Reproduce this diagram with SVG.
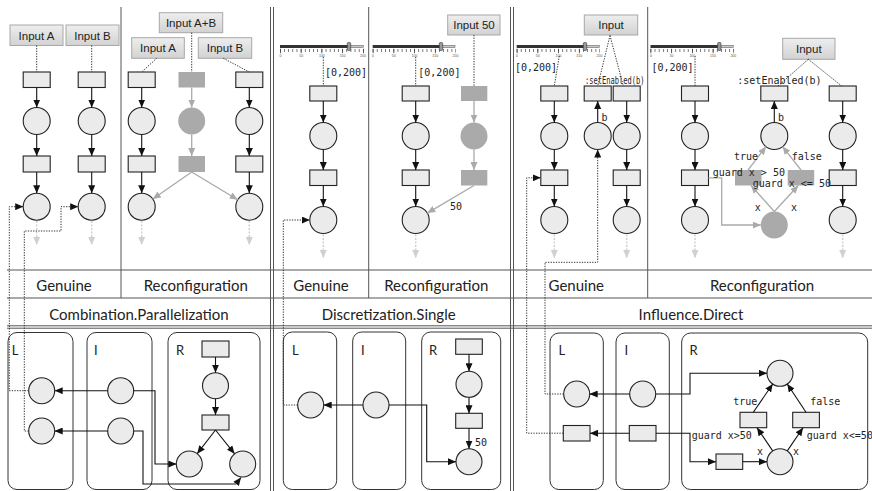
<svg xmlns="http://www.w3.org/2000/svg" width="872" height="491" viewBox="0 0 872 491">
<defs>
<linearGradient id="btng" x1="0" y1="0" x2="0" y2="1"><stop offset="0" stop-color="#eeeeee"/><stop offset="1" stop-color="#d2d2d2"/></linearGradient>
<marker id="ah" viewBox="0 0 8 7" refX="8" refY="3.5" markerWidth="8" markerHeight="7" markerUnits="userSpaceOnUse" orient="auto"><path d="M0,0L8,3.5L0,7z" fill="#111"/></marker>
<marker id="ahg" viewBox="0 0 8 7" refX="8" refY="3.5" markerWidth="8" markerHeight="7" markerUnits="userSpaceOnUse" orient="auto"><path d="M0,0L8,3.5L0,7z" fill="#aaa"/></marker>
<marker id="ahl" viewBox="0 0 8 7" refX="8" refY="3.5" markerWidth="8" markerHeight="7" markerUnits="userSpaceOnUse" orient="auto"><path d="M0,0L8,3.5L0,7z" fill="#d0d0d0"/></marker>
</defs>
<style>
.fr{stroke:#555;stroke-width:1;fill:none}
.hd{font-family:Lato,"Open Sans",sans-serif;font-size:15px;text-anchor:middle;fill:#222}
.lab{font-family:Lato,"Open Sans",sans-serif;font-size:13px;fill:#222}
.btn{fill:url(#btng);stroke:#a8a8a8;stroke-width:1}
.bt{font-family:"Liberation Sans",Arial,sans-serif;font-size:11.5px;text-anchor:middle;fill:#222}
.mono{font-family:"DejaVu Sans Mono","Liberation Mono",monospace;font-size:10px;fill:#222}
.mid{text-anchor:middle}
.tr{fill:#ebebeb;stroke:#222;stroke-width:1.1}
.pl{fill:#ebebeb;stroke:#222;stroke-width:1.1}
.gr{fill:#aaa;stroke:none}
.box{fill:none;stroke:#333;stroke-width:1}
.a{stroke:#111;stroke-width:1.1;fill:none;marker-end:url(#ah)}
.ag{stroke:#aaa;stroke-width:1.3;fill:none;marker-end:url(#ahg)}
.al{stroke:#d0d0d0;stroke-width:1.5;fill:none;stroke-dasharray:2 1.5;marker-end:url(#ahl)}
.dt{stroke:#333;stroke-width:1;fill:none;stroke-dasharray:1.3 1.3}
.dta{stroke:#333;stroke-width:1;fill:none;stroke-dasharray:1.3 1.3;marker-end:url(#ah)}
.tk{font-family:"Liberation Sans",Arial,sans-serif;font-size:3.5px;fill:#555;text-anchor:middle}
.tick{stroke:#444;stroke-width:3;stroke-dasharray:0.7 3.45}
.mtick{stroke:#444;stroke-width:4.5;stroke-dasharray:0.8 19.95}
</style>
<rect width="872" height="491" fill="#ffffff"/>

<g id="frame">
<path class="fr" d="M7,270H872M7,298H872M7,325.8H872M7,328.2H872"/>
<path class="fr" d="M121,7V298M368.7,7V298M647.7,7V298"/>
<path class="fr" d="M270.5,7V491M273.5,7V491M510.5,7V491M513.5,7V491"/>
</g>

<g id="headers">
<text class="hd" x="64" y="290.5">Genuine</text>
<text class="hd" x="195.8" y="290.5">Reconfiguration</text>
<text class="hd" x="321" y="290.5">Genuine</text>
<text class="hd" x="436.3" y="290.5">Reconfiguration</text>
<text class="hd" x="576.3" y="290.5">Genuine</text>
<text class="hd" x="762" y="290.5">Reconfiguration</text>
<text class="hd" x="139" y="319.5">Combination.Parallelization</text>
<text class="hd" x="388.7" y="319.5">Discretization.Single</text>
<text class="hd" x="691" y="319.5">Influence.Direct</text>
</g>

<!-- Section 1 Genuine -->
<g id="s1g-inputA"><rect class="btn" x="10" y="25" width="53" height="20.5"/><text class="bt" x="36.5" y="39.5">Input A</text></g>
<g id="s1g-inputB"><rect class="btn" x="66" y="25" width="53" height="20.5"/><text class="bt" x="92.5" y="39.5">Input B</text></g>
<g id="s1g-tA1"><rect class="tr" x="23.2" y="72" width="27" height="15.5"/></g>
<g id="s1g-pA1"><circle class="pl" cx="36.7" cy="121" r="13.5"/></g>
<g id="s1g-tA2"><rect class="tr" x="23.2" y="156" width="27" height="16"/></g>
<g id="s1g-pA2"><circle class="pl" cx="36.7" cy="206.7" r="13.5"/></g>
<g id="s1g-tB1"><rect class="tr" x="78.2" y="72" width="27" height="15.5"/></g>
<g id="s1g-pB1"><circle class="pl" cx="91.7" cy="121" r="13.5"/></g>
<g id="s1g-tB2"><rect class="tr" x="78.2" y="156" width="27" height="16"/></g>
<g id="s1g-pB2"><circle class="pl" cx="91.7" cy="206.7" r="13.5"/></g>

<!-- Section 1 Reconfiguration -->
<g id="s1r-inputAB"><rect class="btn" x="159.3" y="12.7" width="63.4" height="20"/><text class="bt" x="191" y="27">Input A+B</text></g>
<g id="s1r-inputA"><rect class="btn" x="131.7" y="37.7" width="52.6" height="20.6"/><text class="bt" x="158" y="52.2">Input A</text></g>
<g id="s1r-inputB"><rect class="btn" x="198.3" y="37.7" width="53.4" height="20.6"/><text class="bt" x="225" y="52.2">Input B</text></g>
<g id="s1r-tA1"><rect class="tr" x="128.2" y="72" width="27" height="15.5"/></g>
<g id="s1r-pA1"><circle class="pl" cx="141.7" cy="121" r="13.5"/></g>
<g id="s1r-tA2"><rect class="tr" x="128.2" y="156" width="27" height="16"/></g>
<g id="s1r-pA2"><circle class="pl" cx="141.7" cy="206.7" r="13.5"/></g>
<g id="s1r-tM1"><rect class="gr" x="178.5" y="72" width="26.5" height="15.5"/></g>
<g id="s1r-pM1"><circle class="gr" cx="191.7" cy="121" r="13.5"/></g>
<g id="s1r-tM2"><rect class="gr" x="178.5" y="156" width="26.5" height="16"/></g>
<g id="s1r-tB1"><rect class="tr" x="235.8" y="72" width="27" height="15.5"/></g>
<g id="s1r-pB1"><circle class="pl" cx="249.3" cy="121" r="13.5"/></g>
<g id="s1r-tB2"><rect class="tr" x="235.8" y="156" width="27" height="16"/></g>
<g id="s1r-pB2"><circle class="pl" cx="249.3" cy="206.7" r="13.5"/></g>

<!-- Section 1 rule -->
<g id="s1-L"><rect class="box" x="8" y="332.5" width="65" height="157" rx="9"/><text class="lab" x="11.7" y="354.5">L</text></g>
<g id="s1-I"><rect class="box" x="87" y="332.5" width="65" height="157" rx="9"/><text class="lab" x="94" y="354.5">I</text></g>
<g id="s1-R"><rect class="box" x="168" y="332.5" width="92" height="157" rx="9"/><text class="lab" x="176" y="354.5">R</text></g>
<g id="s1-L-p1"><circle class="pl" cx="41.7" cy="390.7" r="13"/></g>
<g id="s1-L-p2"><circle class="pl" cx="41.7" cy="431" r="13"/></g>
<g id="s1-I-p1"><circle class="pl" cx="120.7" cy="390.7" r="13"/></g>
<g id="s1-I-p2"><circle class="pl" cx="120.7" cy="431" r="13"/></g>
<g id="s1-R-t1"><rect class="tr" x="202" y="341" width="27" height="16"/></g>
<g id="s1-R-p1"><circle class="pl" cx="215.5" cy="385.7" r="13"/></g>
<g id="s1-R-t2"><rect class="tr" x="202" y="415" width="27" height="15"/></g>
<g id="s1-R-p2"><circle class="pl" cx="189.3" cy="464" r="13"/></g>
<g id="s1-R-p3"><circle class="pl" cx="242.7" cy="464" r="13"/></g>

<!-- Section 2 Genuine -->
<g id="s2g-slider">
<rect x="280" y="45" width="69" height="3" fill="#333"/>
<rect x="349" y="45.3" width="14.3" height="2.4" fill="#c8c8c8" stroke="#555" stroke-width="0.5"/>
<line class="tick" x1="280" y1="50.5" x2="364" y2="50.5"/>
<line class="mtick" x1="280" y1="51" x2="364" y2="51"/>
<rect x="347.3" y="42.5" width="3.4" height="8" rx="1" fill="#999" stroke="#333" stroke-width="0.6"/>
<text class="tk" x="280.4" y="57">0</text><text class="tk" x="301.2" y="57">50</text><text class="tk" x="321.9" y="57">100</text><text class="tk" x="342.6" y="57">150</text><text class="tk" x="363" y="57">200</text>
</g>
<g id="s2g-range"><text class="mono" x="325" y="76">[0,200]</text></g>
<g id="s2g-t1"><rect class="tr" x="309.8" y="86" width="27" height="15"/></g>
<g id="s2g-p1"><circle class="pl" cx="323.3" cy="136" r="13.5"/></g>
<g id="s2g-t2"><rect class="tr" x="309.8" y="170" width="27" height="15.5"/></g>
<g id="s2g-p2"><circle class="pl" cx="323.3" cy="220" r="13.5"/></g>

<!-- Section 2 Reconfiguration -->
<g id="s2r-slider">
<rect x="372.7" y="45" width="68.3" height="3" fill="#333"/>
<rect x="441" y="45.3" width="14" height="2.4" fill="#c8c8c8" stroke="#555" stroke-width="0.5"/>
<line class="tick" x1="372.7" y1="50.5" x2="456" y2="50.5"/>
<line class="mtick" x1="372.7" y1="51" x2="456" y2="51"/>
<rect x="439.3" y="42.5" width="3.4" height="8" rx="1" fill="#999" stroke="#333" stroke-width="0.6"/>
<text class="tk" x="373.1" y="57">0</text><text class="tk" x="393.8" y="57">50</text><text class="tk" x="414.5" y="57">100</text><text class="tk" x="435.2" y="57">150</text><text class="tk" x="455.5" y="57">200</text>
</g>
<g id="s2r-range"><text class="mono" x="418.3" y="76">[0,200]</text></g>
<g id="s2r-input50"><rect class="btn" x="447.7" y="15" width="52.3" height="20"/><text class="bt" x="474" y="29.3">Input 50</text></g>
<g id="s2r-t1"><rect class="tr" x="402.2" y="86" width="27" height="15"/></g>
<g id="s2r-p1"><circle class="pl" cx="415.7" cy="136" r="13.5"/></g>
<g id="s2r-t2"><rect class="tr" x="402.2" y="170" width="27" height="15.5"/></g>
<g id="s2r-p2"><circle class="pl" cx="415.7" cy="220" r="13.5"/></g>
<g id="s2r-gt1"><rect class="gr" x="461" y="86" width="26.3" height="15"/></g>
<g id="s2r-gp1"><circle class="gr" cx="474" cy="136" r="13.5"/></g>
<g id="s2r-gt2"><rect class="gr" x="461" y="170" width="26.3" height="15.5"/></g>

<!-- Section 2 rule -->
<g id="s2-L"><rect class="box" x="283.3" y="332" width="53.4" height="157.5" rx="9"/><text class="lab" x="292" y="354.5">L</text></g>
<g id="s2-I"><rect class="box" x="352.7" y="332" width="53" height="157.5" rx="9"/><text class="lab" x="361" y="354.5">I</text></g>
<g id="s2-R"><rect class="box" x="421.7" y="332" width="79" height="157.5" rx="9"/><text class="lab" x="429" y="354.5">R</text></g>
<g id="s2-L-p1"><circle class="pl" cx="310.7" cy="405" r="13"/></g>
<g id="s2-I-p1"><circle class="pl" cx="376" cy="405" r="13"/></g>
<g id="s2-R-t1"><rect class="tr" x="455.7" y="339" width="26.6" height="15.3"/></g>
<g id="s2-R-p1"><circle class="pl" cx="469" cy="384.3" r="13"/></g>
<g id="s2-R-t2"><rect class="tr" x="455.7" y="413.3" width="26.6" height="15"/></g>
<g id="s2-R-p2"><circle class="pl" cx="469" cy="461.7" r="13"/></g>

<!-- Section 3 Genuine -->
<g id="s3g-slider">
<rect x="516.7" y="45" width="68.3" height="3" fill="#333"/>
<rect x="585" y="45.3" width="14.3" height="2.4" fill="#c8c8c8" stroke="#555" stroke-width="0.5"/>
<line class="tick" x1="516.7" y1="50.5" x2="600" y2="50.5"/>
<line class="mtick" x1="516.7" y1="51" x2="600" y2="51"/>
<rect x="583.3" y="42.5" width="3.4" height="8" rx="1" fill="#999" stroke="#333" stroke-width="0.6"/>
<text class="tk" x="517.1" y="57">0</text><text class="tk" x="537.8" y="57">50</text><text class="tk" x="558.5" y="57">100</text><text class="tk" x="579.2" y="57">150</text><text class="tk" x="599.5" y="57">200</text>
</g>
<g id="s3g-range"><text class="mono" x="515" y="71">[0,200]</text></g>
<g id="s3g-input"><rect class="btn" x="584.3" y="15" width="53.4" height="20"/><text class="bt" x="611" y="29.3">Input</text></g>
<g id="s3g-set"><text class="mono" x="585" y="84" textLength="59.5" lengthAdjust="spacingAndGlyphs">:setEnabled(b)</text></g>
<g id="s3g-t1"><rect class="tr" x="540.8" y="86" width="27" height="15"/></g>
<g id="s3g-p1"><circle class="pl" cx="554.3" cy="136" r="13.5"/></g>
<g id="s3g-t2"><rect class="tr" x="540.8" y="170" width="27" height="15.5"/></g>
<g id="s3g-p2"><circle class="pl" cx="554.3" cy="220" r="13.5"/></g>
<g id="s3g-tb"><rect class="tr" x="584.2" y="86" width="27" height="15"/></g>
<g id="s3g-pb"><circle class="pl" cx="597.7" cy="136" r="13.5"/></g>
<g id="s3g-tc1"><rect class="tr" x="613.2" y="86" width="27" height="15"/></g>
<g id="s3g-pc1"><circle class="pl" cx="626.7" cy="136" r="13.5"/></g>
<g id="s3g-tc2"><rect class="tr" x="613.2" y="170" width="27" height="15.5"/></g>
<g id="s3g-pc2"><circle class="pl" cx="626.7" cy="220" r="13.5"/></g>

<!-- Section 3 Reconfiguration -->
<g id="s3r-slider">
<rect x="650.5" y="45" width="68.8" height="3" fill="#333"/>
<rect x="719.3" y="45.3" width="14" height="2.4" fill="#c8c8c8" stroke="#555" stroke-width="0.5"/>
<line class="tick" x1="650.5" y1="50.5" x2="734" y2="50.5"/>
<line class="mtick" x1="650.5" y1="51" x2="734" y2="51"/>
<rect x="717.6" y="42.5" width="3.4" height="8" rx="1" fill="#999" stroke="#333" stroke-width="0.6"/>
<text class="tk" x="650.9" y="57">0</text><text class="tk" x="671.6" y="57">50</text><text class="tk" x="692.3" y="57">100</text><text class="tk" x="713" y="57">150</text><text class="tk" x="733.3" y="57">200</text>
</g>
<g id="s3r-range"><text class="mono" x="651.5" y="71">[0,200]</text></g>
<g id="s3r-input"><rect class="btn" x="782.7" y="38.3" width="52.3" height="21"/><text class="bt" x="808.8" y="52.8">Input</text></g>
<g id="s3r-set"><text class="mono" x="737.3" y="84">:setEnabled(b)</text></g>
<g id="s3r-t1"><rect class="tr" x="681.5" y="86" width="27" height="15"/></g>
<g id="s3r-p1"><circle class="pl" cx="695" cy="136" r="13.5"/></g>
<g id="s3r-t2"><rect class="tr" x="681.5" y="170" width="27" height="15.5"/></g>
<g id="s3r-p2"><circle class="pl" cx="695" cy="220" r="13.5"/></g>
<g id="s3r-tb"><rect class="tr" x="760.8" y="86" width="27" height="15"/></g>
<g id="s3r-pb"><circle class="pl" cx="774.3" cy="136" r="13.5"/></g>
<g id="s3r-tc1"><rect class="tr" x="829.2" y="86" width="27" height="15"/></g>
<g id="s3r-pc1"><circle class="pl" cx="842.7" cy="136" r="13.5"/></g>
<g id="s3r-tc2"><rect class="tr" x="829.2" y="170" width="27" height="15.5"/></g>
<g id="s3r-pc2"><circle class="pl" cx="842.7" cy="220" r="13.5"/></g>
<g id="s3r-gtl"><rect class="gr" x="735" y="170" width="26.5" height="15.5"/></g>
<g id="s3r-gtr"><rect class="gr" x="787.7" y="170" width="26.5" height="15.5"/></g>
<g id="s3r-gp"><circle class="gr" cx="774.3" cy="225" r="13.5"/></g>

<!-- Section 3 rule -->
<g id="s3-L"><rect class="box" x="550" y="333" width="53.3" height="156.5" rx="9"/><text class="lab" x="558.5" y="354.5">L</text></g>
<g id="s3-I"><rect class="box" x="616" y="333" width="53.3" height="156.5" rx="9"/><text class="lab" x="624.5" y="354.5">I</text></g>
<g id="s3-R"><rect class="box" x="681.7" y="333" width="186" height="156.5" rx="9"/><text class="lab" x="689.5" y="354.5">R</text></g>
<g id="s3-L-p1"><circle class="pl" cx="576.7" cy="394" r="13"/></g>
<g id="s3-L-t1"><rect class="tr" x="563.3" y="425.5" width="26.7" height="15.5"/></g>
<g id="s3-I-p1"><circle class="pl" cx="642.7" cy="394" r="13"/></g>
<g id="s3-I-t1"><rect class="tr" x="629.3" y="425.5" width="26.7" height="15.5"/></g>
<g id="s3-R-ptop"><circle class="pl" cx="780" cy="373.3" r="13"/></g>
<g id="s3-R-tl"><rect class="tr" x="740" y="412.3" width="26.7" height="15.4"/></g>
<g id="s3-R-tr"><rect class="tr" x="792.7" y="412.3" width="26.7" height="15.4"/></g>
<g id="s3-R-pbot"><circle class="pl" cx="780" cy="461.7" r="13"/></g>
<g id="s3-R-tin"><rect class="tr" x="716" y="454" width="26.7" height="15.4"/></g>

<g id="connectors">
<!-- section 1 genuine -->
<path class="dt" d="M36.7,45.5V72M91.7,45.5V72"/>
<path class="a" d="M36.7,87.5V107.5"/><path class="a" d="M36.7,134.5V156"/><path class="a" d="M36.7,172V193.2"/>
<path class="a" d="M91.7,87.5V107.5"/><path class="a" d="M91.7,134.5V156"/><path class="a" d="M91.7,172V193.2"/>
<path class="al" d="M36.7,221V245"/><path class="al" d="M91.7,221V245"/>
<!-- section 1 reconfiguration -->
<path class="dt" d="M156.7,58.3L141.7,72M191.7,32.7V72M223.3,58.3L249.3,72"/>
<path class="a" d="M141.7,87.5V107.5"/><path class="a" d="M141.7,134.5V156"/><path class="a" d="M141.7,172V193.2"/>
<path class="a" d="M249.3,87.5V107.5"/><path class="a" d="M249.3,134.5V156"/><path class="a" d="M249.3,172V193.2"/>
<path class="ag" d="M191.7,87.5V107.5"/><path class="ag" d="M191.7,134.5V156"/>
<path class="ag" d="M191.7,172L152.8,199"/><path class="ag" d="M191.7,172L237.7,199.7"/>
<path class="al" d="M141.7,221V245"/><path class="al" d="M249.3,221V245"/>
<!-- section 1 rule -->
<path class="a" d="M107.7,390.7H54.7"/><path class="a" d="M107.7,431H54.7"/>
<path class="a" d="M133.7,390.7H155V464H176.3"/>
<path class="a" d="M133.7,431H143V484H236L241,477.5"/>
<path class="a" d="M215.5,357V372.7"/><path class="a" d="M215.5,398.7V415"/>
<path class="a" d="M215.5,430L197.2,453.7"/><path class="a" d="M215.5,430L234.6,453.8"/>
<!-- section 1 traces -->
<path class="dta" d="M28.7,390.7H9.3V206.7H23.2"/>
<path class="dta" d="M28.7,431H24.3V231H61V206.7H78.2"/>

<!-- section 2 genuine -->
<path class="dt" d="M323.3,57V86"/>
<path class="a" d="M323.3,101V122.5"/><path class="a" d="M323.3,149.5V170"/><path class="a" d="M323.3,185.5V206.5"/>
<path class="al" d="M323.3,234.5V258"/>
<!-- section 2 reconfiguration -->
<path class="dt" d="M415.7,57V86M474,35V86"/>
<path class="a" d="M415.7,101V122.5"/><path class="a" d="M415.7,149.5V170"/><path class="a" d="M415.7,185.5V206.5"/>
<path class="al" d="M415.7,234.5V258"/>
<path class="ag" d="M474,101V122.5"/><path class="ag" d="M474,149.5V170"/>
<path class="ag" d="M474,185.5L427.3,213.1"/>
<text class="mono" x="450" y="210">50</text>
<!-- section 2 rule -->
<path class="a" d="M363,405H323.7"/>
<path class="a" d="M389,405H426.7V461.7H456"/>
<path class="a" d="M469,354.3V371.3"/><path class="a" d="M469,397.3V413.3"/><path class="a" d="M469,428.3V448.7"/>
<text class="mono" x="475" y="445.5">50</text>
<path class="dta" d="M297.7,405H283.3V220H309.8"/>

<!-- section 3 genuine -->
<path class="dt" d="M559.3,56L554.3,86M610,35.5L597.7,86M610,35.5L623.3,86"/>
<path class="a" d="M554.3,101V122.5"/><path class="a" d="M554.3,149.5V170"/><path class="a" d="M554.3,185.5V206.5"/>
<path class="al" d="M554.3,234.5V258"/>
<path class="a" d="M597.7,122.5V101"/>
<text class="mono" x="601.5" y="120.7">b</text>
<path class="a" d="M626.7,101V122.5"/><path class="a" d="M626.7,149.5V170"/><path class="a" d="M626.7,185.5V206.5"/>
<path class="al" d="M626.7,234.5V258"/>
<path class="dta" d="M563.7,394H545V262.3H597.7V149.5"/>
<path class="dta" d="M563.3,433.2H526.7V177.8H540.8"/>
<!-- section 3 reconfiguration -->
<path class="dt" d="M695,56V86M808.3,59.3L778,86M808.3,59.3L841.7,86"/>
<path class="a" d="M695,101V122.5"/><path class="a" d="M695,149.5V170"/><path class="a" d="M695,185.5V206.5"/>
<path class="al" d="M695,234.5V258"/>
<path class="a" d="M774.3,122.5V101"/>
<text class="mono" x="778" y="120.7">b</text>
<path class="a" d="M842.7,101V122.5"/><path class="a" d="M842.7,149.5V170"/><path class="a" d="M842.7,185.5V206.5"/>
<path class="al" d="M842.7,234.5V258"/>
<path class="ag" d="M748,170L766,146.7"/><path class="ag" d="M801,170L782.6,146.6"/>
<path class="ag" d="M774.3,211.5L751,185.5"/><path class="ag" d="M774.3,211.5L798.3,185.5"/>
<path class="ag" d="M708.5,177.8H721.7V225H760.8"/>
<text class="mono mid" x="746" y="159.5">true</text>
<text class="mono mid" x="806.7" y="159.5">false</text>
<text class="mono" x="712.7" y="176">guard x &gt; 50</text>
<text class="mono" x="752.7" y="186.5">guard x &lt;= 50</text>
<text class="mono mid" x="757.7" y="211">x</text>
<text class="mono mid" x="794" y="211">x</text>
<!-- section 3 rule -->
<path class="a" d="M629.7,394H589.7"/><path class="a" d="M629.3,433.2H590"/>
<path class="a" d="M655.7,394H690V373.3H767"/>
<path class="a" d="M656,433.2H690V461.7H716"/>
<path class="a" d="M742.7,461.7H767"/>
<path class="a" d="M772.7,450.9L757,427.7"/><path class="a" d="M787.3,450.9L803,427.7"/>
<path class="a" d="M753.3,412.3L772.7,384"/><path class="a" d="M806,412.3L787.3,384"/>
<text class="mono mid" x="745.3" y="404.5">true</text>
<text class="mono mid" x="825.3" y="404.5">false</text>
<text class="mono" x="691.7" y="438.5">guard x&gt;50</text>
<text class="mono" x="806.7" y="438.5">guard x&lt;=50</text>
<text class="mono mid" x="760" y="454.5">x</text>
<text class="mono mid" x="796" y="454.5">x</text>
</g>
</svg>
